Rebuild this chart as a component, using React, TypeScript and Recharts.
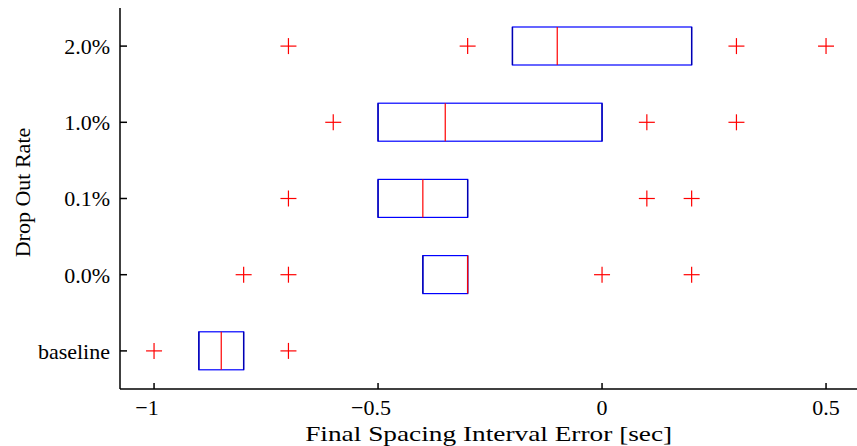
import {
  ComposedChart,
  Bar,
  Scatter,
  XAxis,
  YAxis,
} from "recharts";

// drop out rate groups, top to bottom
const categories = ["2.0%", "1.0%", "0.1%", "0.0%", "baseline"];
const boxLow = [-0.2, -0.5, -0.5, -0.4, -0.9];
const boxMedian = [-0.1, -0.35, -0.4, -0.3, -0.85];
const boxHigh = [0.2, 0, -0.3, -0.3, -0.8];
const outliers2 = [-0.7, -0.3, 0.3, 0.5];
const outliers1 = [-0.6, 0.1, 0.3];
const outliers01 = [-0.7, 0.1, 0.2];
const outliers0 = [-0.8, -0.7, 0, 0.2];
const outliersBase = [-1.0, -0.7];
const xTicks = [-1, -0.5, 0, 0.5];

const FONT = "'Liberation Serif', 'Times New Roman', serif";
const BLUE = "#0000ff";
const RED = "#ff0000";

const boxes = categories.map((name, i) => ({
  name,
  range: [boxLow[i], boxHigh[i]],
  low: boxLow[i],
  median: boxMedian[i],
  high: boxHigh[i],
}));

const outlierLists = [outliers2, outliers1, outliers01, outliers0, outliersBase];
const outlierPoints = outlierLists.flatMap((list, i) =>
  list.map((v) => ({ name: categories[i], v }))
);

function BoxShape(props: any) {
  const { x, y, width, height, payload } = props;
  const span = payload.high - payload.low;
  const mx = x + (width * (payload.median - payload.low)) / span;
  return (
    <g>
      <rect x={x} y={y} width={width} height={height} fill="none" stroke={BLUE} strokeWidth={1.2} />
      {/* whisker caps sit on the box ends */}
      <line x1={x} x2={x} y1={y} y2={y + height} stroke="#0000b0" strokeWidth={1.4} />
      <line x1={x + width} x2={x + width} y1={y} y2={y + height} stroke="#0000b0" strokeWidth={1.4} />
      <line x1={mx} x2={mx} y1={y} y2={y + height} stroke={RED} strokeWidth={1.2} />
    </g>
  );
}

function PlusShape(props: any) {
  const { cx, cy } = props;
  if (cx == null || cy == null) return null;
  return (
    <g>
      <line x1={cx - 8} x2={cx + 8} y1={cy} y2={cy} stroke={RED} strokeWidth={1.2} />
      <line x1={cx} x2={cx} y1={cy - 8} y2={cy + 8} stroke={RED} strokeWidth={1.2} />
    </g>
  );
}

function XTick(props: any) {
  const { x, y, payload } = props;
  const v = payload.value as number;
  const txt = String(v).replace("-", "\u2212");
  return (
    <text x={x + (v < 0 ? -7 : 0)} y={y} textAnchor="middle" fontFamily={FONT} fontSize={22} fill="#000">
      {txt}
    </text>
  );
}

export default function App() {
  return (
    <div style={{ position: "absolute", left: 0, top: 0, background: "#fff" }}>
      <ComposedChart
        width={860}
        height={446}
        data={boxes}
        layout="vertical"
        margin={{ top: 8, right: 2.6, bottom: 0, left: 0 }}
      >
        <XAxis
          type="number"
          domain={[-1.076, 0.57]}
          ticks={xTicks}
          allowDataOverflow
          height={57}
          stroke="#000"
          strokeWidth={1.5}
          tickSize={-6}
          tickMargin={32}
          tick={<XTick />}
          label={{
            content: (p: any) => {
              const vb = p.viewBox || { x: 120, y: 389, width: 737 };
              return (
                <text
                  x={vb.x + vb.width / 2}
                  y={vb.y + 52}
                  textAnchor="middle"
                  fontFamily={FONT}
                  fontSize={22}
                  fill="#000"
                  textLength={367}
                  lengthAdjust="spacingAndGlyphs"
                >
                  Final Spacing Interval Error [sec]
                </text>
              );
            },
          }}
        />
        <XAxis
          xAxisId="top"
          orientation="top"
          type="number"
          domain={[-1.076, 0.57]}
          ticks={xTicks}
          allowDataOverflow
          height={0}
          stroke="#000"
          strokeWidth={1.5}
          tickSize={-6}
          tick={false}
        />
        <YAxis
          type="category"
          dataKey="name"
          width={120}
          allowDuplicatedCategory={false}
          stroke="#000"
          strokeWidth={1.5}
          tickSize={-7}
          tickMargin={17}
          tick={{ fontFamily: FONT, fontSize: 22, fill: "#000" }}
          label={{
            content: (p: any) => {
              const vb = p.viewBox || { y: 8, height: 381 };
              return (
                <text
                  transform={`translate(30, ${vb.y + vb.height / 2 - 6}) rotate(-90)`}
                  textAnchor="middle"
                  fontFamily={FONT}
                  fontSize={22}
                  fill="#000"
                >
                  Drop Out Rate
                </text>
              );
            },
          }}
        />
        <YAxis
          yAxisId="right"
          orientation="right"
          type="category"
          dataKey="name"
          width={0}
          allowDuplicatedCategory={false}
          stroke="#000"
          strokeWidth={1.5}
          tickSize={-6}
          tick={false}
        />
        <Bar dataKey="range" barSize={38} shape={<BoxShape />} isAnimationActive={false} />
        <Scatter data={outlierPoints} dataKey="v" fill={RED} shape={<PlusShape />} isAnimationActive={false} />
      </ComposedChart>
    </div>
  );
}
